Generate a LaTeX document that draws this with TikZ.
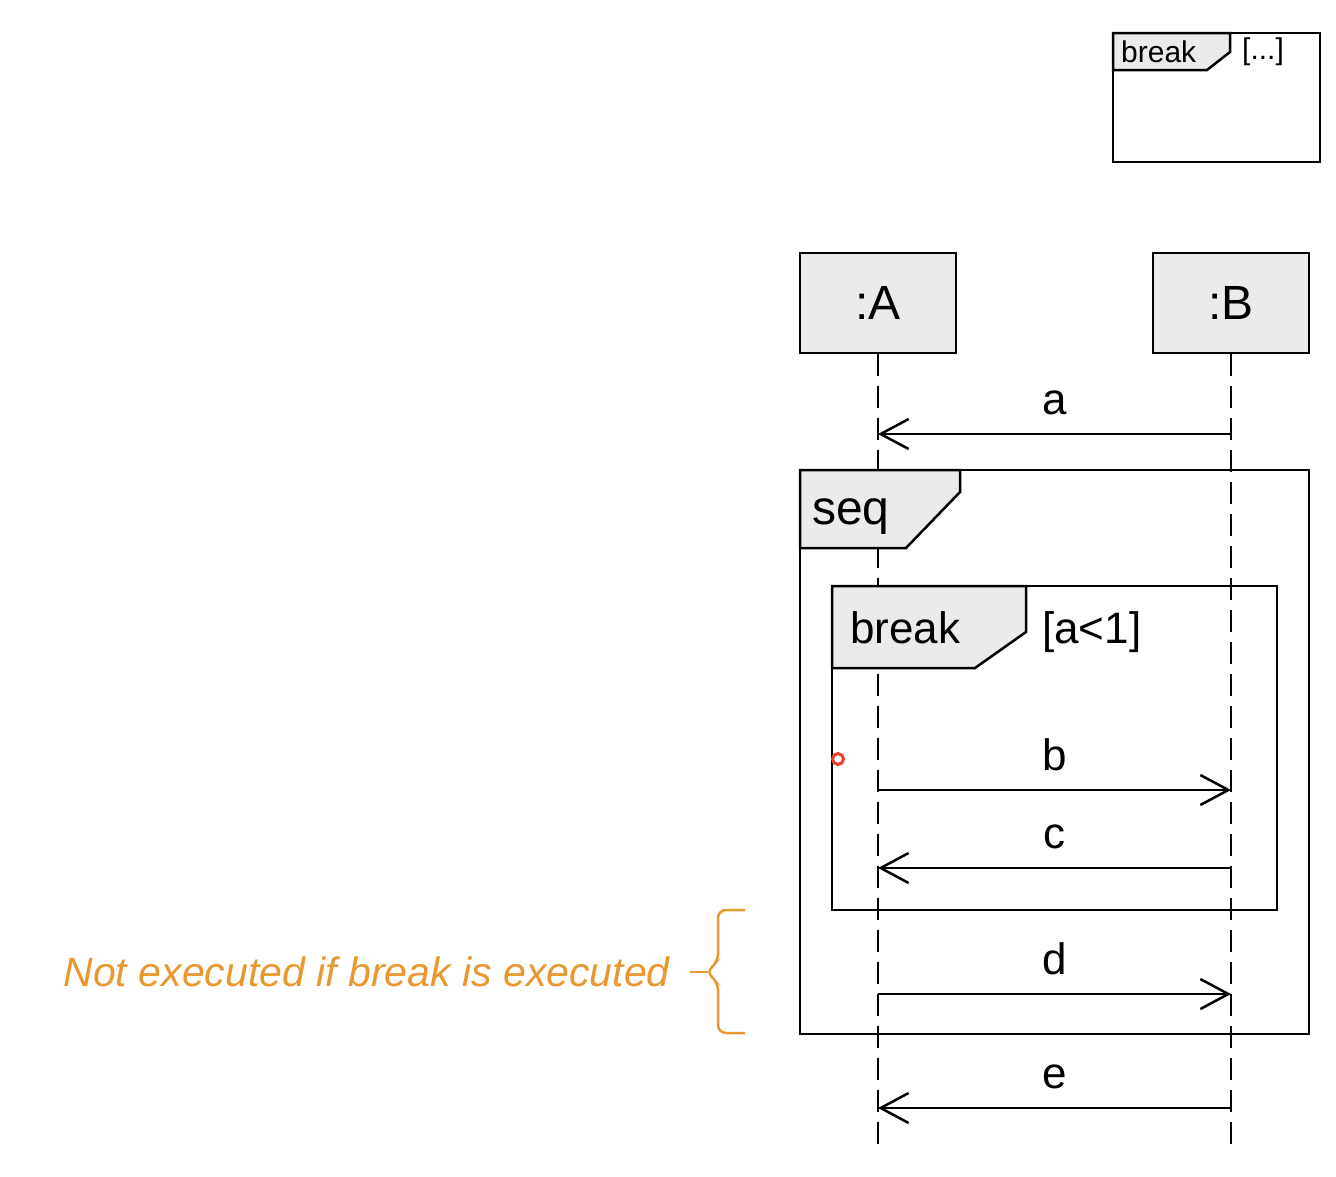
\documentclass[tikz,border=0pt]{standalone}
\usepackage{fontspec}
\setmainfont{Liberation Sans}
\usetikzlibrary{arrows.meta}
\definecolor{boxgray}{HTML}{EBEBEB}
\definecolor{noteorange}{HTML}{E8982F}
\definecolor{cursorred}{HTML}{E8402A}
\tikzset{
  obj/.style={draw, line width=2.5pt, fill=boxgray, minimum width=156pt, minimum height=100pt, inner sep=0pt, font=\fontsize{48}{56}\selectfont},
  lifeline/.style={line width=2.5pt, dash pattern=on 22pt off 10pt},
  msg/.style={line width=2.5pt, -{Straight Barb[length=28pt,width=30pt,line width=2.5pt]}},
  frame/.style={line width=2.5pt},
  tab/.style={line width=2.5pt, fill=boxgray},
  lbl/.style={font=\fontsize{44}{50}\selectfont, inner sep=0pt},
  small/.style={font=\fontsize{30}{34}\selectfont, inner sep=0pt}
}
\begin{document}
\begin{tikzpicture}[x=1pt,y=-1pt]
\useasboundingbox (0,0) rectangle (1336,1176);
% legend frame
\draw[frame] (1113,33) rectangle (1320,162);
\draw[tab] (1113,33) -- (1230,33) -- (1230,52) -- (1207,70) -- (1113,70) -- cycle;
\node[small, anchor=west] (lgbreak) at (1121,52) {break};
\node[small, anchor=west] (lgguard) at (1242,52) {[...]};
% objects
\node[obj] (A) at (878,303) {:A};
\node[obj] (B) at (1231,303) {:B};
\coordinate (Aend) at (878,1150);
\coordinate (Bend) at (1231,1150);
\draw[lifeline] (A.south) -- (Aend);
\draw[lifeline] (B.south) -- (Bend);
% message coordinates
\foreach \n/\y in {a/434,b/790,c/868,d/994,e/1108}{
  \coordinate (A\n) at (878,\y);
  \coordinate (B\n) at (1231,\y);
}
% seq frame
\draw[frame] (800,470) rectangle (1309,1034);
\draw[tab] (800,470) -- (960,470) -- (960,492) -- (906,548) -- (800,548) -- cycle;
\node[font=\fontsize{48}{54}\selectfont, inner sep=0pt, anchor=base west] (seq) at (812,524) {seq};
% break frame
\draw[frame] (832,586) rectangle (1277,910);
\draw[tab] (832,586) -- (1026,586) -- (1026,632) -- (975,668) -- (832,668) -- cycle;
\node[lbl, anchor=base west] (brk) at (850,643) {break};
\node[lbl, anchor=base west] (guard) at (1042,643) {[a<1]};
% messages
\draw[msg] (Ba) -- (Aa) node[lbl, midway, above=18pt] (la) {a};
\draw[msg] (Ab) -- (Bb) node[lbl, midway, above=18pt] (lb) {b};
\draw[msg] (Bc) -- (Ac) node[lbl, midway, above=18pt] (lc) {c};
\draw[msg] (Ad) -- (Bd) node[lbl, midway, above=18pt] (ld) {d};
\draw[msg] (Be) -- (Ae) node[lbl, midway, above=18pt] (le) {e};
% note bracket
\coordinate (brTop) at (745,910);
\coordinate (brBot) at (745,1033);
\coordinate (brTip) at (690,972);
\draw[noteorange, line width=2.5pt, rounded corners=8pt]
  (brTop) -- (718,910) -- (718,962) -- (706,972) -- (718,982) -- (718,1033) -- (brBot);
\draw[noteorange, line width=2.5pt] (brTip) -- (708,972);
\node[font=\fontsize{41}{46}\selectfont\itshape, text=noteorange, anchor=east, inner sep=0pt] (note) at (670,972) {Not executed if break is executed};
% cursor mark
\node[draw=cursorred, line width=3pt, circle, minimum size=11pt, inner sep=0pt] (cursor) at (838,759) {};
\end{tikzpicture}
\end{document}
